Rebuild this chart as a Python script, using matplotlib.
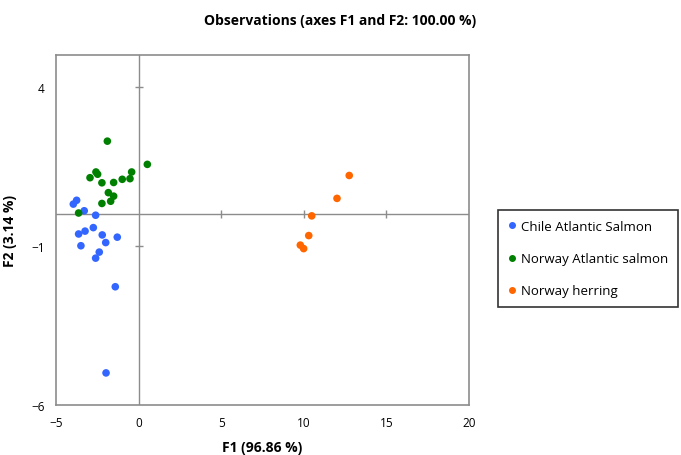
import numpy as np
from matplotlib import pyplot as plt
from matplotlib.lines import Line2D

# Observations (F1, F2)
chile_x = [-3.75, -3.95, -3.29, -2.60, -2.74, -3.24, -3.63, -2.20, -1.29, -1.99,
           -3.49, -2.38, -2.60, -1.41, -1.97]
chile_y = [0.43, 0.31, 0.10, -0.04, -0.43, -0.54, -0.63, -0.66, -0.73, -0.90,
           -1.00, -1.20, -1.39, -2.29, -5.00]
norway_salmon_x = [-1.89, 0.53, -2.58, -2.48, -0.42, -2.94, -0.52, -0.99, -1.51,
                   -2.22, -1.83, -1.51, -1.69, -2.22, -3.63]
norway_salmon_y = [2.29, 1.56, 1.32, 1.25, 1.32, 1.14, 1.11, 1.09, 0.99, 0.98,
                   0.67, 0.56, 0.40, 0.33, 0.03]
herring_x = [12.75, 12.01, 10.48, 10.30, 9.79, 9.99]
herring_y = [1.21, 0.49, -0.06, -0.68, -0.98, -1.09]

labels = ["Chile Atlantic Salmon", "Norway Atlantic salmon", "Norway herring"]
colors = ["#3366ff", "#008000", "#ff6600"]

xticks = [-5, 0, 5, 10, 15, 20]
yticks = [4, -1, -6]

plt.rcParams["font.family"] = ["Open Sans", "DejaVu Sans"]

fig = plt.figure(figsize=(6.81, 4.56), dpi=100)
ax = fig.add_axes([0.0822, 0.1103, 0.6065, 0.7669])

grey = "#8c8c8c"
# - Crossing axes through the origin
ax.axhline(0, color=grey, lw=1, zorder=1)
ax.axvline(0, color=grey, lw=1, zorder=1)
ax.plot([5, 10, 15], [0, 0, 0], ls="none", marker="|", ms=6, mew=1, color=grey, zorder=1)
ax.plot([0, 0], [4, -1], ls="none", marker="_", ms=6, mew=1, color=grey, zorder=1)

series = [(chile_x, chile_y), (norway_salmon_x, norway_salmon_y), (herring_x, herring_y)]
for (xs, ys), c in zip(series, colors):
    ax.scatter(xs, ys, s=30, color=c, edgecolors="none", zorder=3)

ax.set_xlim(-5, 20)
ax.set_ylim(-6, 5)
ax.set_xticks(xticks)
ax.set_yticks(yticks)
ax.tick_params(length=0, labelsize=8.5, pad=8)
for sp in ax.spines.values():
    sp.set_color(grey)
    sp.set_linewidth(1.2)

ax.set_xlabel("F1 (96.86 %)", fontweight="bold", fontsize=10, labelpad=8)
ax.set_ylabel("F2 (3.14 %)", fontweight="bold", fontsize=10)
ax.yaxis.set_label_coords(-0.094, 0.5)
fig.text(0.5, 0.955, "Observations (axes F1 and F2: 100.00 %)", ha="center",
         va="center", fontweight="bold", fontsize=10)

handles = [Line2D([], [], ls="none", marker="o", ms=4, color=c) for c in colors]
leg = fig.legend(handles, labels, loc="upper left", bbox_to_anchor=(0.731, 0.537),
                 borderaxespad=0, frameon=True, fancybox=False, fontsize=9.5,
                 handlelength=0.6, handletextpad=0.4, labelspacing=1.45, borderpad=0.75)
leg.get_frame().set_edgecolor("black")
leg.get_frame().set_linewidth(1.2)

fig.savefig("out.png", dpi=100)
